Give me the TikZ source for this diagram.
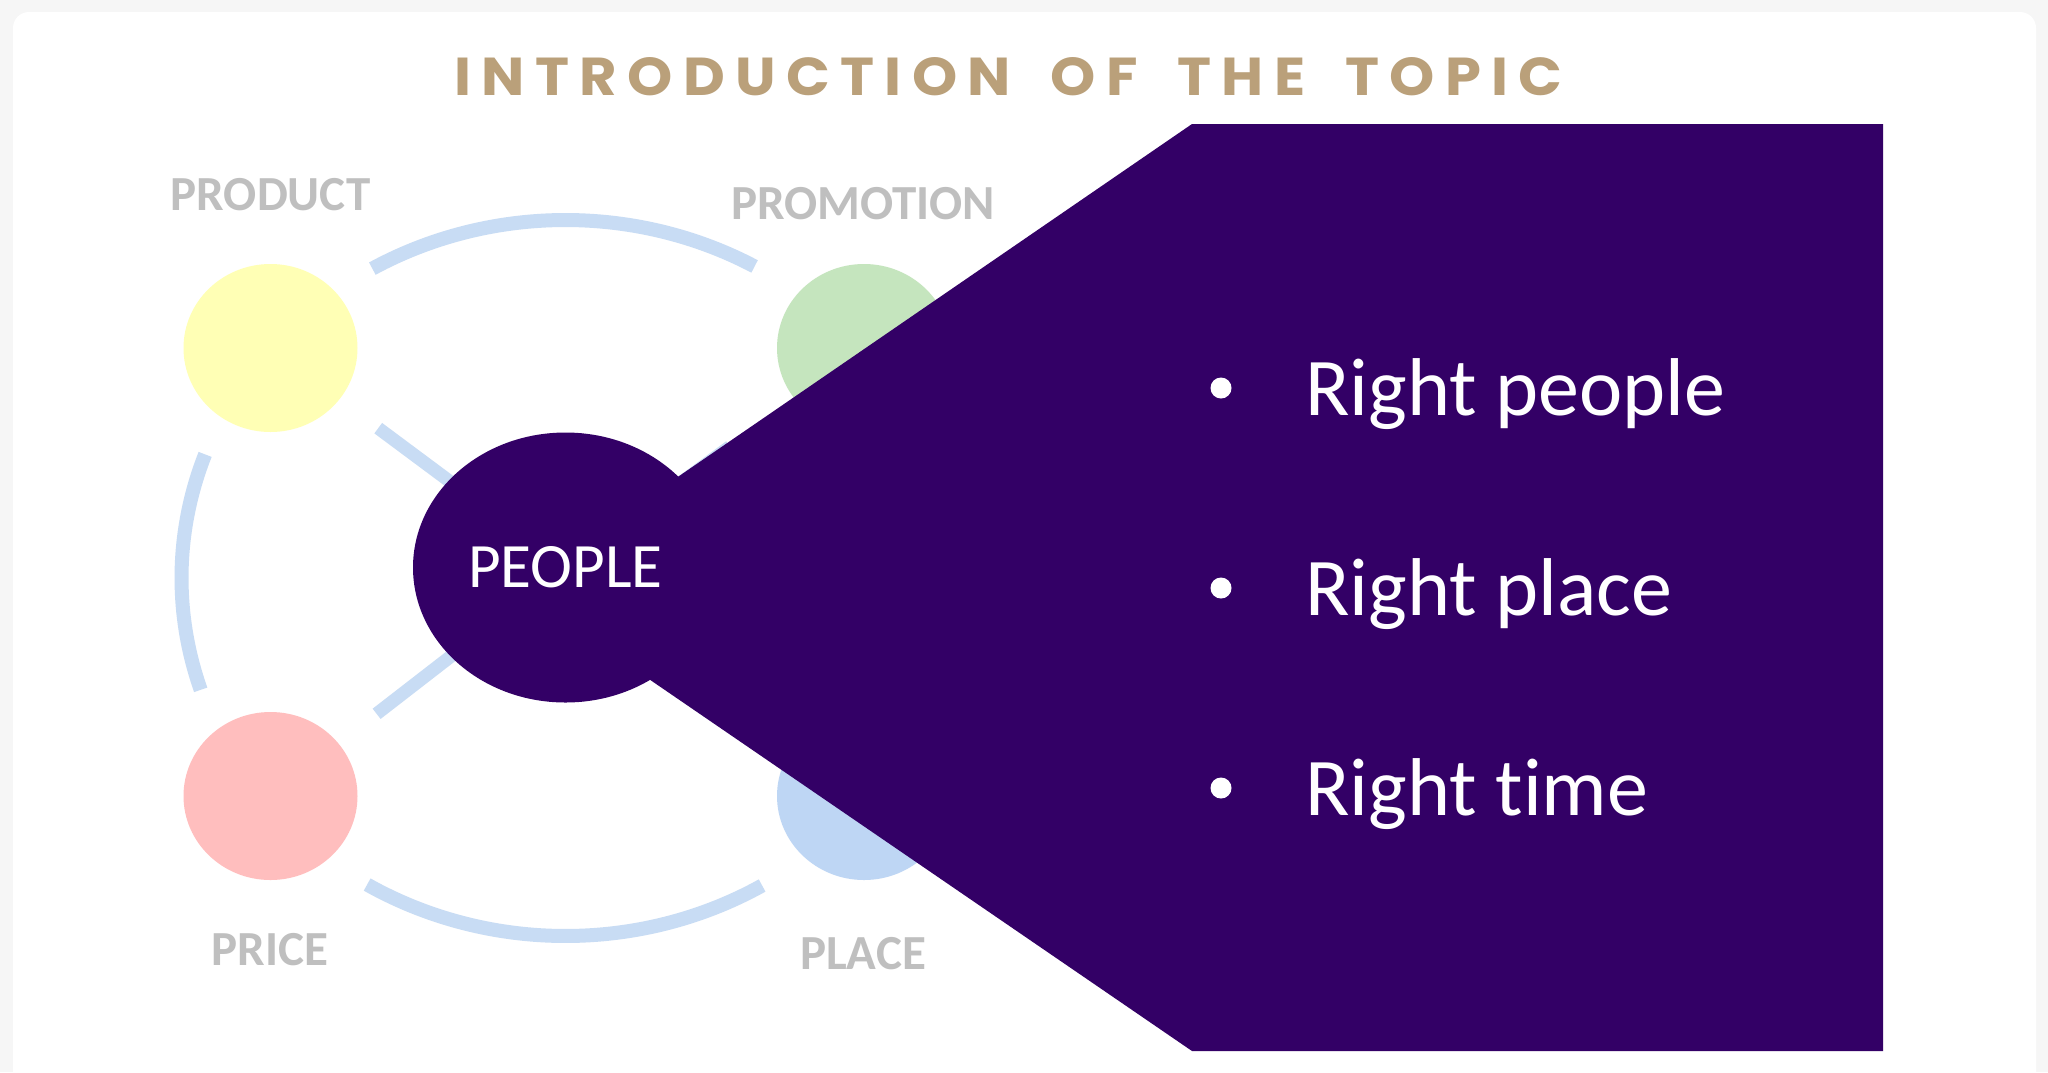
\documentclass[tikz,border=0pt]{standalone}
\usepackage{fontspec}
\setmainfont{Carlito}[Ligatures=NoCommon]
\newfontfamily\titlefont{Poppins}[LetterSpace=18]
\usetikzlibrary{shapes.geometric}
\definecolor{pagebg}{HTML}{F6F6F6}
\definecolor{purp}{HTML}{330066}
\definecolor{titlec}{HTML}{BAA07A}
\definecolor{lblc}{HTML}{BFBFBF}
\definecolor{ringc}{HTML}{C8DCF4}
\definecolor{yellowc}{HTML}{FFFFB5}
\definecolor{greenc}{HTML}{C5E5BE}
\definecolor{pinkc}{HTML}{FFBEBE}
\definecolor{bluec}{HTML}{BED6F4}
\tikzset{
  ring/.style={draw=ringc, line width=7pt},
  spoke/.style={draw=ringc, line width=6.5pt, shorten <=24pt},
  ball/.style={ellipse, inner sep=0pt, minimum width=87pt, minimum height=84pt},
  lbl/.style={text=lblc, font=\fontsize{24.5}{28}\selectfont\bfseries, inner sep=0pt, anchor=base},
  item/.style={text=white, font=\fontsize{41}{48}\selectfont, inner sep=0pt, anchor=base west},
  bul/.style={circle, fill=white, inner sep=0pt, minimum size=10.5pt}
}
\newcommand{\wgap}{\hspace{0.3em}}
\begin{document}
\begin{tikzpicture}[x=0.5pt,y=-0.5pt]
\useasboundingbox (0,0) rectangle (2048,1072);
\fill[pagebg] (0,0) rectangle (2048,1072);
\fill[white, rounded corners=8pt] (13,12) rectangle (2036,1100);

% title
\node[text=titlec, inner sep=0pt] (title) at (1008.5,77)
  {\resizebox{554pt}{19pt}{\titlefont\bfseries INTRODUCTION \wgap OF \wgap THE \wgap TOPIC}};

% outer ring
\draw[ring] plot[domain=-120.2:-60.5, samples=60] ({565.5+384*cos(\x)},{578+358*sin(\x)});
\draw[ring] plot[domain=161.8:200.2, samples=40] ({565.5+384*cos(\x)},{578+358*sin(\x)});
\draw[ring] plot[domain=59.2:121.1, samples=60] ({565.5+384*cos(\x)},{578+358*sin(\x)});
\draw[ring] plot[domain=-20:20, samples=40] ({565.5+384*cos(\x)},{578+358*sin(\x)});

% centre point
\coordinate (pc) at (565.5,567.5);

% small circles
\node[ball, fill=yellowc] (product) at (270.5,348) {};
\node[ball, fill=greenc] (promotion) at (864,348) {};
\node[ball, fill=pinkc] (price) at (270.5,796) {};
\node[ball, fill=bluec] (place) at (864,796) {};

% spokes
\draw[spoke] (product) -- (pc);
\draw[spoke] (price) -- (pc);
\draw[spoke, shorten <=40pt] (promotion) -- (pc);
\draw[spoke, shorten <=40pt] (place) -- (pc);

% labels
\node[lbl] (productlbl) at (270.5,210) {PRODUCT};
\node[lbl] (promotionlbl) at (863,219.5) {PROMOTION};
\node[lbl] (pricelbl) at (270,965.5) {PRICE};
\node[lbl] (placelbl) at (863,969) {PLACE};

% callout
\fill[purp] (1192,124) -- (1883,124) -- (1883,1051) -- (1192,1051) -- (516,588) -- cycle;
\node[ellipse, fill=purp, inner sep=0pt, minimum width=152.5pt, minimum height=135pt,
      text=white, font=\fontsize{31.6}{36}\selectfont] (people) at (pc) {PEOPLE};

% bullets
\node[bul] (b1) at (1221,388) {};
\node[bul] (b2) at (1221,588) {};
\node[bul] (b3) at (1221,788) {};
\node[item] (i1) at (1305,415.8) {Right people};
\node[item] (i2) at (1305,615.8) {Right place};
\node[item] (i3) at (1305,815.8) {Right time};
\end{tikzpicture}
\end{document}
